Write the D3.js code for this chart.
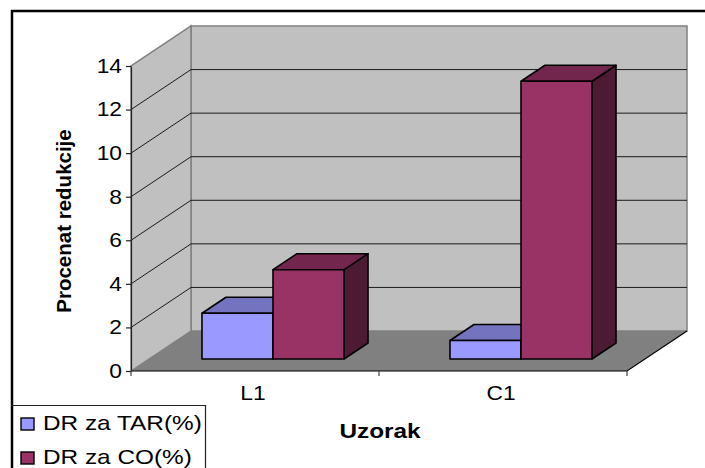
<!DOCTYPE html>
<html>
<head>
<meta charset="utf-8">
<script src="https://cdnjs.cloudflare.com/ajax/libs/d3/7.8.5/d3.min.js"></script>
<style>
  html, body { margin: 0; padding: 0; background: #fff; }
  text { font-family: "Liberation Sans", Arial, sans-serif; fill: #000; }
</style>
</head>
<body>
<svg width="705" height="468" style="display:block"></svg>
<script>
var categories = ["L1", "C1"];
var seriesNames = ["DR za TAR(%)", "DR za CO(%)"];
var tarValues = [2.1, 0.85];
var coValues = [4.1, 12.75];
var yTicks = [0, 2, 4, 6, 8, 10, 12, 14];

var seriesColors = [
  {front: "#9999ff", top: "#7373bf", side: "#4d4d80"},
  {front: "#993366", top: "#73264d", side: "#4d1a33"}
];
var allValues = [tarValues, coValues];

var svg = d3.select("svg");

// front plane of the 3d box
var plot = {left: 131, right: 627, top: 66, bottom: 371};
// how far the back wall sits from the front plane
var depth = {x: 60, y: 40};
var stretch = 1.14; // the whole picture is wider than it should be

var yScale = d3.scaleLinear().domain([0, 14]).range([plot.bottom, plot.top]);
var xScale = d3.scaleBand().domain(categories).range([plot.left, plot.right]);
var barScale = d3.scaleBand().domain(seriesNames)
  .range([0, xScale.bandwidth()]).paddingInner(0).paddingOuter(0.746);

var pt = function(x, v, d) {
  return [x + d * depth.x, yScale(v) - d * depth.y];
};
var poly = function(points) {
  return points.map(function(p) { return p.join(","); }).join(" ");
};

// outer frame
svg.append("path").attr("d", "M705,11 H12 V468")
  .attr("fill", "none").attr("stroke", "#000").attr("stroke-width", 2.5);

// walls and floor
var walls = svg.append("g").attr("stroke", "#808080").attr("stroke-width", 1.5);
walls.append("polygon").attr("fill", "#c0c0c0")
  .attr("points", poly([pt(plot.left, 0, 1), pt(plot.left, 14, 1), pt(plot.right, 14, 1), pt(plot.right, 0, 1)]));
walls.append("polygon").attr("fill", "#c0c0c0")
  .attr("points", poly([pt(plot.left, 0, 0), pt(plot.left, 14, 0), pt(plot.left, 14, 1), pt(plot.left, 0, 1)]));
svg.append("polygon").attr("fill", "#808080")
  .attr("points", poly([pt(plot.left, 0, 0), pt(plot.right, 0, 0), pt(plot.right, 0, 1), pt(plot.left, 0, 1)]));

// gridlines
var grid = svg.append("g").attr("fill", "none").attr("stroke", "#1a1a1a").attr("stroke-width", 1);
grid.selectAll("polyline")
  .data(yTicks.filter(function(t) { return t > 0 && t < 14; }))
  .enter()
  .append("polyline")
  .attr("points", function(t) {
    return poly([pt(plot.left, t, 0), pt(plot.left, t, 1), pt(plot.right, t, 1)]);
  });

// floor front and right edges
svg.append("polyline").attr("fill", "none").attr("stroke", "#000").attr("stroke-width", 1.2)
  .attr("points", poly([pt(plot.left, 0, 0), pt(plot.right, 0, 0), pt(plot.right, 0, 1)]));

// bars, left to right so each one covers the side of the previous
var d0 = 0.3, d1 = 0.7;
categories.forEach(function(cat, i) {
  seriesNames.forEach(function(name, s) {
    var v = allValues[s][i];
    var c = seriesColors[s];
    var x0 = xScale(cat) + barScale(name);
    var x1 = x0 + barScale.bandwidth();
    var g = svg.append("g").attr("stroke", "#000").attr("stroke-width", 1.6).attr("stroke-linejoin", "round");
    g.append("polygon").attr("fill", c.side)
      .attr("points", poly([pt(x1, 0, d0), pt(x1, v, d0), pt(x1, v, d1), pt(x1, 0, d1)]));
    g.append("polygon").attr("fill", c.top)
      .attr("points", poly([pt(x0, v, d0), pt(x0, v, d1), pt(x1, v, d1), pt(x1, v, d0)]));
    g.append("polygon").attr("fill", c.front)
      .attr("points", poly([pt(x0, 0, d0), pt(x0, v, d0), pt(x1, v, d0), pt(x1, 0, d0)]));
  });
});

// y axis
var yAxis = d3.axisLeft(yScale).tickValues(yTicks).tickSize(5).tickSizeOuter(0);
var yG = svg.append("g").attr("transform", "translate(" + plot.left + ",0)").call(yAxis);
yG.selectAll("path, line").attr("stroke", "#222").attr("stroke-width", 1.2);
yG.selectAll("text").attr("font-size", 20).attr("x", 0)
  .attr("transform", "translate(-9,0) scale(" + stretch + ",1)");

// x axis, labels sit in the band centre, ticks on the band edges
var xAxis = d3.axisBottom(xScale).tickSize(0);
var xG = svg.append("g").attr("transform", "translate(0," + plot.bottom + ")").call(xAxis);
xG.select(".domain").remove();
xG.selectAll("text").attr("font-size", 20).attr("x", 0).attr("y", 29).attr("dy", 0)
  .attr("transform", "translate(-2,0) scale(" + stretch + ",1)");

var edges = categories.map(function(c) { return xScale(c); }).concat([plot.right]);
svg.append("g").selectAll("line").data(edges).enter().append("line")
  .attr("x1", function(d) { return d; }).attr("x2", function(d) { return d; })
  .attr("y1", plot.bottom).attr("y2", plot.bottom + 5)
  .attr("stroke", "#444").attr("stroke-width", 1.2);

// axis titles
svg.append("text").text("Uzorak")
  .attr("font-size", 21).attr("font-weight", "bold").attr("text-anchor", "middle")
  .attr("transform", "translate(380,438) scale(1.16,1)");
svg.append("text").text("Procenat redukcije")
  .attr("font-size", 20.5).attr("font-weight", "bold").attr("text-anchor", "middle")
  .attr("transform", "translate(71,221) rotate(-90)");

// legend
var legend = svg.append("g");
legend.append("path").attr("d", "M12,405.5 H205.5 V468")
  .attr("fill", "none").attr("stroke", "#222").attr("stroke-width", 1.2);
var legendItems = legend.selectAll("g.item").data(seriesNames).enter().append("g")
  .attr("class", "item")
  .attr("transform", function(d, i) { return "translate(21," + (430 + i * 34) + ")"; });
legendItems.append("rect")
  .attr("x", 0).attr("y", -12).attr("width", 13).attr("height", 12)
  .attr("stroke", "#000").attr("stroke-width", 1.4)
  .attr("fill", function(d, i) { return seriesColors[i].front; });
legendItems.append("text").text(function(d) { return d; })
  .attr("font-size", 21)
  .attr("transform", "translate(22,0) scale(1.16,1)");
</script>
</body>
</html>
